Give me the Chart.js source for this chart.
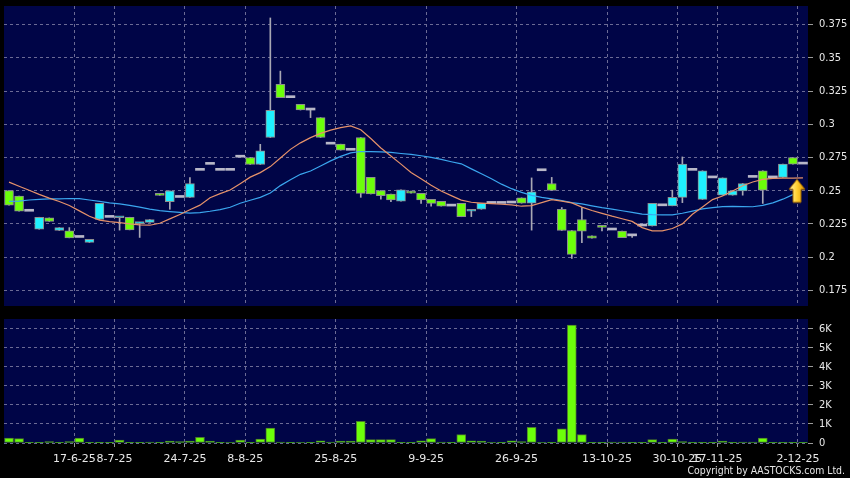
<!DOCTYPE html>
<html>
<head>
<meta charset="utf-8">
<script src="https://cdn.jsdelivr.net/npm/chart.js@4.4.0/dist/chart.umd.min.js"></script>
<style>
  html, body { margin: 0; padding: 0; background: #000; }
  #wrap { position: relative; width: 850px; height: 478px; background: #000; overflow: hidden; }
  #priceChart { position: absolute; left: 0; top: 0; }
  #volChart { position: absolute; left: 0; top: 310px; }
  #copy { position: absolute; right: 5px; top: 464px; font: 10.4px "DejaVu Sans Condensed", "DejaVu Sans", sans-serif; color: #e6e6e6; white-space: nowrap; }
</style>
</head>
<body>
<div id="wrap">
  <canvas id="priceChart" width="850" height="310"></canvas>
  <canvas id="volChart" width="850" height="168"></canvas>
  <div id="copy">Copyright by AASTOCKS.com Ltd.</div>
</div>
<script>
// daily candles, oldest first (80 sessions)
const opens  = [0.250,0.246,0.2345,0.221,0.2295,0.220,0.2198,0.2148,0.211,0.2283,
                0.2299,0.2296,0.230,0.2252,0.2262,0.248,0.2418,0.2449,0.245,0.2653,
                0.2698,0.2653,0.2653,0.2752,0.275,0.2697,0.290,0.330,0.320,0.315,
                0.3107,0.305,0.285,0.285,0.2804,0.290,0.260,0.250,0.2474,0.2421,
                0.2497,0.248,0.2434,0.2419,0.2384,0.2404,0.2345,0.236,0.2404,0.2404,
                0.2407,0.2446,0.2406,0.265,0.2554,0.236,0.220,0.2283,0.216,0.2239,
                0.2204,0.2196,0.216,0.2234,0.2234,0.2386,0.2386,0.2449,0.2653,0.2434,
                0.2596,0.2466,0.2466,0.2498,0.260,0.265,0.2596,0.260,0.275,0.270];
const highs  = [0.250,0.246,0.2345,0.230,0.2295,0.2222,0.2222,0.2148,0.2133,0.2404,
                0.2299,0.2301,0.230,0.226,0.2283,0.248,0.2498,0.2449,0.2599,0.2653,
                0.2698,0.2653,0.2653,0.2752,0.275,0.2849,0.380,0.340,0.320,0.315,
                0.3107,0.305,0.285,0.285,0.2804,0.290,0.260,0.250,0.2474,0.2506,
                0.2497,0.248,0.2434,0.2419,0.2384,0.2404,0.2355,0.2404,0.2404,0.2404,
                0.2407,0.2446,0.2596,0.265,0.260,0.2373,0.220,0.2373,0.216,0.2239,
                0.2204,0.2196,0.216,0.2234,0.2404,0.2386,0.2504,0.2754,0.2653,0.265,
                0.2596,0.2596,0.2498,0.2554,0.260,0.265,0.2596,0.270,0.275,0.270];
const lows   = [0.239,0.2345,0.2345,0.221,0.2268,0.220,0.2145,0.2148,0.211,0.2283,
                0.2299,0.2203,0.2205,0.2148,0.2262,0.2465,0.236,0.2449,0.245,0.2653,
                0.2698,0.2653,0.2653,0.2752,0.2697,0.2697,0.290,0.320,0.320,0.3107,
                0.305,0.290,0.285,0.2805,0.2804,0.245,0.2475,0.2437,0.2417,0.2421,
                0.2481,0.2404,0.2384,0.2384,0.2384,0.2304,0.2305,0.236,0.2404,0.2404,
                0.2407,0.2406,0.2203,0.265,0.2501,0.220,0.199,0.2108,0.2143,0.2198,
                0.2204,0.2146,0.2148,0.2234,0.2234,0.2386,0.2386,0.241,0.2653,0.2434,
                0.2596,0.2466,0.2466,0.2466,0.260,0.2404,0.2596,0.260,0.270,0.270];
const closes = [0.239,0.2345,0.2345,0.230,0.2268,0.2222,0.2145,0.2148,0.2133,0.2404,
                0.2299,0.2301,0.2205,0.226,0.2283,0.2465,0.2498,0.2449,0.2554,0.2653,
                0.2698,0.2653,0.2653,0.2752,0.2697,0.280,0.3105,0.320,0.320,0.3107,
                0.3107,0.290,0.285,0.2805,0.2804,0.248,0.2475,0.2462,0.243,0.2506,
                0.2481,0.243,0.2404,0.2384,0.2384,0.2304,0.2355,0.2404,0.2404,0.2404,
                0.2407,0.2406,0.2491,0.265,0.2501,0.220,0.2021,0.2196,0.2143,0.2224,
                0.2204,0.2146,0.216,0.2234,0.2404,0.2386,0.2449,0.270,0.2653,0.265,
                0.2596,0.2596,0.2498,0.2554,0.260,0.2504,0.2596,0.270,0.270,0.270];
const volumes = [260,230,10,20,70,10,70,260,10,20,
                 10,160,10,10,50,10,100,70,100,300,
                 100,10,30,160,40,210,790,50,10,30,
                 40,120,50,100,100,1140,175,175,175,40,
                 10,120,230,50,10,440,120,100,30,15,
                 120,70,820,30,15,750,6210,440,15,10,
                 50,50,10,40,175,10,210,70,10,10,
                 10,100,10,50,50,260,15,15,15,10];
// moving averages as drawn (orange = short, blue = long)
const maShort = [0.2564,0.2533,0.2503,0.2472,0.2444,0.2419,0.2388,0.2348,0.2307,0.2278,
                 0.2267,0.2259,0.2250,0.2242,0.2240,0.2255,0.2288,0.2321,0.2356,0.2391,
                 0.2447,0.2478,0.2505,0.2553,0.2602,0.2636,0.2681,0.2746,0.2811,0.2860,
                 0.2899,0.2931,0.2956,0.2974,0.2988,0.2959,0.2893,0.2821,0.2761,0.2700,
                 0.2637,0.2590,0.2540,0.2497,0.2463,0.2429,0.2413,0.2407,0.2402,0.2398,
                 0.2393,0.2383,0.2388,0.2410,0.2432,0.2422,0.2408,0.2376,0.2351,0.2329,
                 0.2308,0.2289,0.2269,0.2222,0.2198,0.2197,0.2215,0.2250,0.2322,0.2377,
                 0.2433,0.2460,0.2497,0.2537,0.2565,0.2585,0.2593,0.2594,0.2595,0.2596];
const maLong  = [0.2419,0.2421,0.2430,0.2435,0.2438,0.2439,0.2441,0.2440,0.2430,0.2420,
                 0.2408,0.2400,0.2389,0.2376,0.2361,0.2350,0.2343,0.2337,0.2331,0.2335,
                 0.2345,0.2358,0.2375,0.2405,0.2428,0.2450,0.2483,0.2538,0.2582,0.2623,
                 0.2648,0.2686,0.2724,0.2758,0.2785,0.2795,0.2794,0.2792,0.2788,0.2780,
                 0.2773,0.2763,0.2750,0.2735,0.2718,0.2702,0.2664,0.2628,0.2590,0.2549,
                 0.2515,0.2487,0.2465,0.2449,0.2439,0.2426,0.2410,0.2400,0.2386,0.2372,
                 0.2361,0.2349,0.2337,0.2324,0.2320,0.2318,0.2318,0.2330,0.2346,0.2363,
                 0.2373,0.2380,0.2382,0.2380,0.2379,0.2389,0.2408,0.2436,0.2470,null];
const arrowPrice = 0.2495;   // marker on the latest session

const tickIdx  = [7, 11, 18, 24, 33, 42, 51, 60, 67, 71, 79];
const tickText = ['17-6-25','8-7-25','24-7-25','8-8-25','25-8-25','9-9-25','26-9-25','13-10-25','30-10-25','17-11-25','2-12-25'];
const volTicks = [0, 1000, 2000, 3000, 4000, 5000, 6000];

const NAVY = '#000547';
const GRID = '#6b6b95';
const TXT = '#e8e8e8';
const UP = '#1ff0ff';
const DOWN = '#6cff0a';
const EDGE = '#8e8e8e';

const labels = opens.map((_, i) => i);
const tickMap = new Map(tickIdx.map((idx, k) => [idx, tickText[k]]));

const panelBg = {
  id: 'panelBg',
  beforeDraw(chart) {
    const { ctx, chartArea: a } = chart;
    ctx.save();
    ctx.fillStyle = NAVY;
    ctx.fillRect(a.left, a.top, a.right - a.left, a.bottom - a.top);
    ctx.restore();
  }
};

function gridAt(c) {
  return (c.type === 'tick' && tickMap.has(c.index)) ? GRID : 'rgba(0,0,0,0)';
}

function xAxis(withLabels) {
  return {
    type: 'category',
    offset: true,
    grid: { offset: true, color: gridAt, drawTicks: withLabels, tickLength: 4, tickColor: c => gridAt(c) === GRID ? '#9a9a9a' : 'rgba(0,0,0,0)', tickBorderDash: [4, 0] },
    border: { display: false, dash: [3, 3] },
    ticks: {
      display: withLabels,
      autoSkip: false,
      maxRotation: 0,
      labelOffset: -5,
      padding: 6,
      color: TXT,
      font: { family: 'DejaVu Sans', size: 11 },
      callback: (v, i) => tickMap.get(i) || ''
    },
    afterFit: s => { s.height = withLabels ? 35 : 0; s.paddingLeft = 0; s.paddingRight = 0; }
  };
}

function yAxis(min, max, step, fmt, fixedTicks) {
  const axis = {
    position: 'right',
    min, max,
    grid: { color: GRID, tickColor: '#9a9a9a', tickLength: 5, tickBorderDash: [5, 0] },
    border: { display: false, dash: [3, 3] },
    ticks: {
      stepSize: step,
      includeBounds: false,
      padding: 6,
      color: TXT,
      font: { family: 'DejaVu Sans Condensed', size: 11 },
      callback: fmt
    },
    afterFit: s => { s.width = 42; s.paddingTop = 0; s.paddingBottom = 0; }
  };
  if (fixedTicks) axis.afterBuildTicks = s => { s.ticks = fixedTicks.map(value => ({ value })); };
  return axis;
}

function arrowImage() {
  const c = document.createElement('canvas');
  c.width = 34; c.height = 26;
  const g = c.getContext('2d');
  const cx = 11;
  g.beginPath();
  g.moveTo(cx, 1); g.lineTo(cx + 8, 11); g.lineTo(cx + 4, 11); g.lineTo(cx + 4, 24);
  g.lineTo(cx - 4, 24); g.lineTo(cx - 4, 11); g.lineTo(cx - 8, 11); g.closePath();
  const grad = g.createLinearGradient(cx - 8, 0, cx + 8, 0);
  grad.addColorStop(0, '#fff5b0');
  grad.addColorStop(0.5, '#ffd030');
  grad.addColorStop(1, '#dd9500');
  g.fillStyle = grad;
  g.fill();
  g.strokeStyle = '#a06800';
  g.lineWidth = 1;
  g.stroke();
  return c;
}

const bodyColor = opens.map((o, i) => closes[i] > o ? UP : closes[i] < o ? DOWN : '#b8b8c8');
const isFlat = opens.map((o, i) => o === closes[i]);

new Chart(document.getElementById('priceChart'), {
  type: 'bar',
  data: {
    labels,
    datasets: [
      {
        type: 'line', order: 0,
        data: labels.map(i => i === labels.length - 1 ? arrowPrice : null),
        showLine: false, pointStyle: arrowImage(), pointRadius: 10
      },
      {
        type: 'line', order: 1, data: maShort,
        borderColor: '#e5926a', borderWidth: 1.2, pointRadius: 0, tension: 0
      },
      {
        type: 'line', order: 1, data: maLong,
        borderColor: '#3aa6ee', borderWidth: 1.2, pointRadius: 0, tension: 0
      },
      {
        order: 2, grouped: false,
        data: opens.map((o, i) => [Math.min(o, closes[i]), Math.max(o, closes[i])]),
        backgroundColor: bodyColor,
        borderColor: isFlat.map(f => f ? 'rgba(0,0,0,0)' : EDGE),
        borderWidth: isFlat.map(f => f ? 0 : 1),
        borderSkipped: false,
        barThickness: 9,
        minBarLength: 2
      },
      {
        order: 3, grouped: false,
        data: lows.map((l, i) => highs[i] > l ? [l, highs[i]] : null),
        backgroundColor: '#a8a8b4',
        barThickness: 1
      }
    ]
  },
  options: {
    responsive: false,
    animation: false,
    devicePixelRatio: 1,
    layout: { autoPadding: false, padding: { left: 4, top: 6, right: 0, bottom: 4 } },
    plugins: { legend: { display: false }, tooltip: { enabled: false } },
    scales: {
      x: xAxis(false),
      y: yAxis(0.1632, 0.3890, 0.025, v => String(+v.toFixed(3)))
    }
  },
  plugins: [panelBg]
});

new Chart(document.getElementById('volChart'), {
  type: 'bar',
  data: {
    labels,
    datasets: [{
      data: volumes,
      backgroundColor: DOWN,
      borderColor: '#4d7d2a',
      borderWidth: 1,
      borderSkipped: false,
      barThickness: 9
    }]
  },
  options: {
    responsive: false,
    animation: false,
    devicePixelRatio: 1,
    layout: { autoPadding: false, padding: { left: 4, top: 9, right: 0, bottom: 0 } },
    plugins: { legend: { display: false }, tooltip: { enabled: false } },
    scales: {
      x: xAxis(true),
      y: yAxis(0, 6525, 1000, v => v === 0 ? '0' : (v / 1000) + 'K', volTicks)
    }
  },
  plugins: [panelBg]
});
</script>
</body>
</html>
